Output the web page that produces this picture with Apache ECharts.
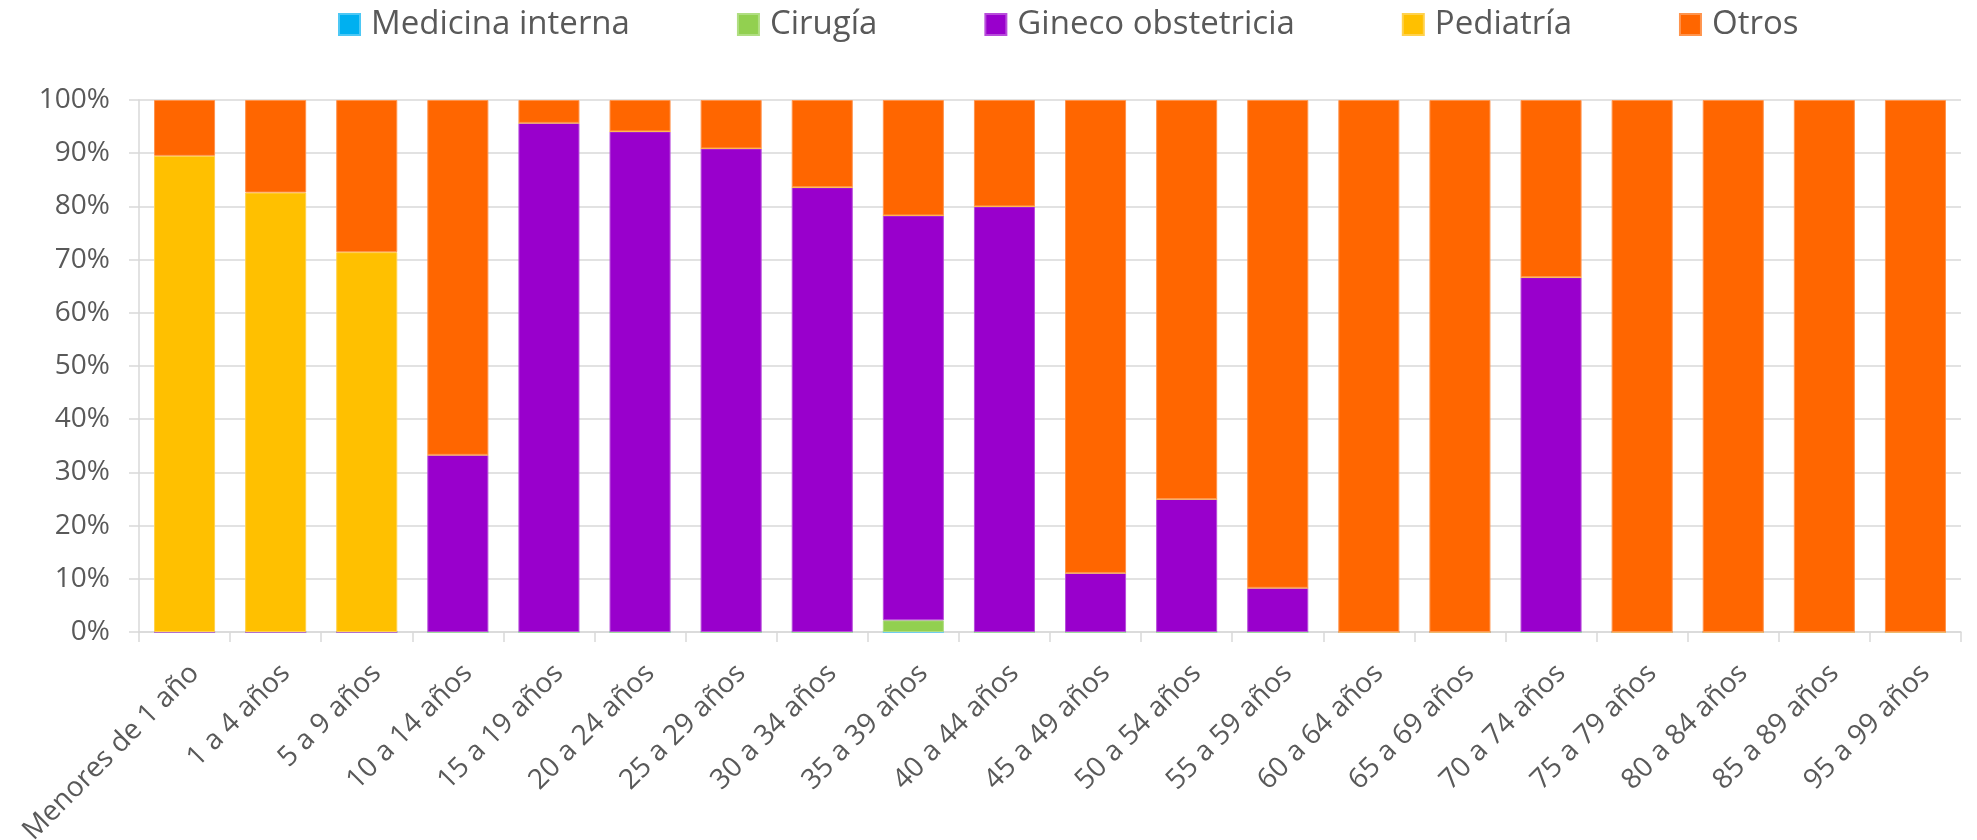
<!DOCTYPE html>
<html>
<head>
<meta charset="utf-8">
<script src="https://cdn.jsdelivr.net/npm/echarts@6/dist/echarts.min.js"></script>
<style>
html,body{margin:0;padding:0;background:#fff;}
#chart{width:1977px;height:840px;}
</style>
</head>
<body>
<div id="chart"></div>
<script>
const categories = ["Menores de 1 año","1 a 4 años","5 a 9 años","10 a 14 años","15 a 19 años","20 a 24 años","25 a 29 años","30 a 34 años","35 a 39 años","40 a 44 años","45 a 49 años","50 a 54 años","55 a 59 años","60 a 64 años","65 a 69 años","70 a 74 años","75 a 79 años","80 a 84 años","85 a 89 años","95 a 99 años"];
const medicinaInterna = [0,0,0,0,0,0,0,0,0,0,0,0,0,0,0,0,0,0,0,0];
const cirugia        = [0,0,0,0,0,0,0,0,2.2,0,0,0,0,0,0,0,0,0,0,0];
const ginecoObst     = [0,0,0,33.3,95.7,94.1,90.9,83.6,76.1,80,11.1,25,8.3,0,0,66.7,0,0,0,0];
const pediatria      = [89.5,82.6,71.4,0,0,0,0,0,0,0,0,0,0,0,0,0,0,0,0,0];
const otros          = [10.5,17.4,28.6,66.7,4.3,5.9,9.1,16.4,21.7,20,88.9,75,91.7,100,100,33.3,100,100,100,100];
const yTicks = [0,10,20,30,40,50,60,70,80,90,100];

const seriesDefs = [
  {name:"Medicina interna", data:medicinaInterna, color:"#00B0F0", border:"#4dc8f5"},
  {name:"Cirugía", data:cirugia, color:"#92D050", border:"#b0de82"},
  {name:"Gineco obstetricia", data:ginecoObst, color:"#9900CC", border:"#b84ddb"},
  {name:"Pediatría", data:pediatria, color:"#FFC000", border:"#ffd24d"},
  {name:"Otros", data:otros, color:"#FF6600", border:"#ff944d"}
];

const chart = echarts.init(document.getElementById('chart'), null, {renderer:'canvas'});
const font = "'Open Sans', sans-serif";
chart.setOption({
  animation:false,
  textStyle:{fontFamily:font},
  legend:{
    left:333, top:3,
    itemWidth:21, itemHeight:21, itemGap:107,
    icon:'rect',
    textStyle:{fontFamily:font, fontSize:33, color:'#595959', padding:[0,0,0,6]},
    data: seriesDefs.map(s=>s.name)
  },
  grid:{left:139, right:16, top:100, bottom:208, containLabel:false, outerBoundsMode:'none'},
  xAxis:{
    type:'category',
    data:categories,
    axisLine:{show:true, lineStyle:{color:'#d9d9d9', width:1.5}},
    axisTick:{show:true, length:10, lineStyle:{color:'#d9d9d9', width:1.5}},
    axisLabel:{rotate:45, margin:27, align:'right', verticalAlign:'top', fontFamily:font, fontSize:28, color:'#595959', interval:0}
  },
  yAxis:{
    type:'value',
    min:yTicks[0], max:yTicks[yTicks.length-1], interval:10,
    axisLine:{show:true, lineStyle:{color:'#d9d9d9', width:1.5}},
    axisTick:{show:true, length:10, lineStyle:{color:'#d9d9d9', width:1.5}},
    splitLine:{show:true, lineStyle:{color:'#d9d9d9', width:1.5}},
    axisLabel:{formatter:'{value}%', margin:29, fontFamily:font, fontSize:28, color:'#595959'}
  },
  series: seriesDefs.map(s=>({
    name:s.name, type:'bar', stack:'total',
    data:s.data,
    barCategoryGap:'33%',
    itemStyle:{color:s.color, borderColor:s.border, borderWidth:1},
    emphasis:{disabled:true}
  }))
});
</script>
</body>
</html>
